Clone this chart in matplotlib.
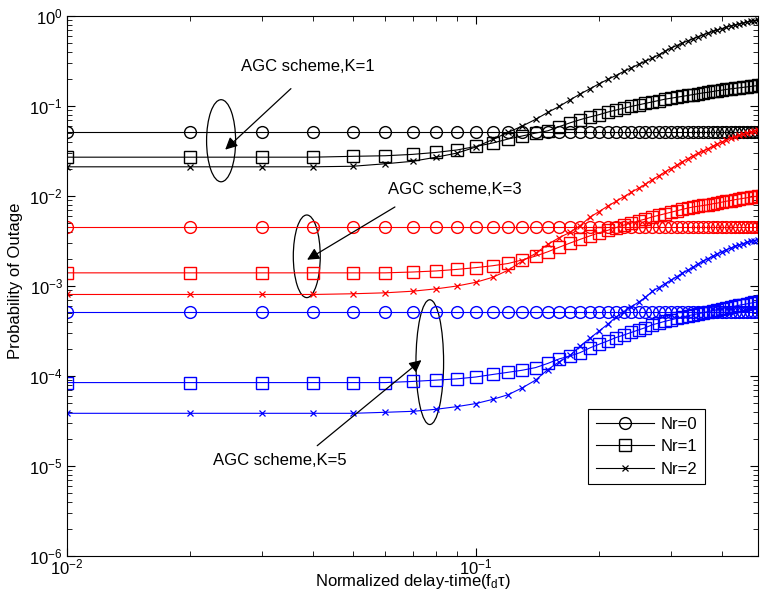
import matplotlib
matplotlib.use('Agg')
import matplotlib.pyplot as plt
import numpy as np
from matplotlib.patches import Ellipse

plt.rcParams['font.family'] = ['Liberation Sans', 'DejaVu Sans']
plt.rcParams['mathtext.default'] = 'regular'
plt.rcParams['font.size'] = 12

# normalized delay-time grid (f_d * tau)
delay = np.arange(1, 51) / 100

# K=1 (black)
k1_nr0 = [0.0515] * 50
k1_nr1 = [0.0270, 0.0270, 0.0270, 0.0270, 0.0276, 0.0280, 0.0290, 0.0305, 0.0325, 0.0355,
          0.0388, 0.043, 0.0465, 0.050, 0.053, 0.059, 0.065, 0.0705, 0.0755, 0.080,
          0.0855, 0.090, 0.0945, 0.099, 0.103, 0.107, 0.111, 0.115, 0.119, 0.122,
          0.125, 0.128, 0.131, 0.134, 0.137, 0.140, 0.142, 0.145, 0.148, 0.150,
          0.153, 0.155, 0.157, 0.159, 0.161, 0.163, 0.165, 0.167, 0.169, 0.171]
k1_nr2 = [0.0211, 0.0211, 0.0211, 0.0211, 0.0214, 0.0228, 0.0243, 0.027, 0.030, 0.035,
          0.0425, 0.051, 0.060, 0.071, 0.085, 0.099, 0.117, 0.136, 0.155, 0.176,
          0.197, 0.218, 0.242, 0.265, 0.29, 0.315, 0.34, 0.37, 0.405, 0.44,
          0.47, 0.50, 0.53, 0.56, 0.59, 0.62, 0.645, 0.675, 0.70, 0.725,
          0.75, 0.775, 0.795, 0.815, 0.835, 0.855, 0.875, 0.89, 0.905, 0.92]

# K=3 (red)
k3_nr0 = [4.5e-3] * 50
k3_nr1 = [1.40e-3, 1.40e-3, 1.40e-3, 1.40e-3, 1.40e-3, 1.40e-3, 1.43e-3, 1.47e-3, 1.53e-3, 1.6e-3,
          1.68e-3, 1.78e-3, 1.95e-3, 2.15e-3, 2.4e-3, 2.7e-3, 3.0e-3, 3.3e-3, 3.6e-3, 3.9e-3,
          4.15e-3, 4.45e-3, 4.75e-3, 5.0e-3, 5.3e-3, 5.55e-3, 5.85e-3, 6.1e-3, 6.35e-3, 6.6e-3,
          6.85e-3, 7.1e-3, 7.35e-3, 7.55e-3, 7.7e-3, 7.85e-3, 8.0e-3, 8.2e-3, 8.35e-3, 8.55e-3,
          8.75e-3, 8.9e-3, 9.1e-3, 9.25e-3, 9.4e-3, 9.55e-3, 9.7e-3, 9.85e-3, 9.95e-3, 1.005e-2]
k3_nr2 = [8.05e-4, 8.05e-4, 8.05e-4, 8.05e-4, 8.2e-4, 8.4e-4, 8.75e-4, 9.3e-4, 1.0e-3, 1.1e-3,
          1.25e-3, 1.5e-3, 1.9e-3, 2.3e-3, 2.9e-3, 3.45e-3, 3.95e-3, 4.7e-3, 5.8e-3, 6.7e-3,
          7.7e-3, 8.7e-3, 9.8e-3, 1.1e-2, 1.22e-2, 1.35e-2, 1.52e-2, 1.67e-2, 1.85e-2, 2.02e-2,
          2.2e-2, 2.4e-2, 2.6e-2, 2.8e-2, 2.98e-2, 3.16e-2, 3.36e-2, 3.57e-2, 3.8e-2, 4.0e-2,
          4.2e-2, 4.38e-2, 4.55e-2, 4.72e-2, 4.88e-2, 5.05e-2, 5.2e-2, 5.32e-2, 5.42e-2, 5.5e-2]

# K=5 (blue)
k5_nr0 = [5.1e-4] * 50
k5_nr1 = [8.45e-5, 8.45e-5, 8.45e-5, 8.45e-5, 8.45e-5, 8.45e-5, 8.7e-5, 9.0e-5, 9.3e-5, 9.75e-5,
          1.04e-4, 1.10e-4, 1.16e-4, 1.24e-4, 1.38e-4, 1.55e-4, 1.67e-4, 1.82e-4, 2.05e-4, 2.25e-4,
          2.45e-4, 2.67e-4, 2.85e-4, 3.05e-4, 3.25e-4, 3.45e-4, 3.70e-4, 3.87e-4, 4.05e-4, 4.2e-4,
          4.37e-4, 4.52e-4, 4.67e-4, 4.8e-4, 4.93e-4, 5.06e-4, 5.2e-4, 5.33e-4, 5.45e-4, 5.6e-4,
          5.73e-4, 5.85e-4, 5.97e-4, 6.1e-4, 6.22e-4, 6.33e-4, 6.45e-4, 6.56e-4, 6.67e-4, 6.78e-4]
k5_nr2 = [3.85e-5, 3.85e-5, 3.85e-5, 3.85e-5, 3.85e-5, 3.95e-5, 4.05e-5, 4.27e-5, 4.57e-5, 4.94e-5,
          5.5e-5, 6.2e-5, 7.4e-5, 9.0e-5, 1.18e-4, 1.44e-4, 1.70e-4, 2.15e-4, 2.62e-4, 3.15e-4,
          3.75e-4, 4.5e-4, 5.2e-4, 5.9e-4, 6.6e-4, 7.5e-4, 8.7e-4, 9.6e-4, 1.06e-3, 1.16e-3,
          1.27e-3, 1.39e-3, 1.50e-3, 1.62e-3, 1.77e-3, 1.90e-3, 2.02e-3, 2.15e-3, 2.29e-3, 2.41e-3,
          2.53e-3, 2.64e-3, 2.75e-3, 2.86e-3, 2.96e-3, 3.05e-3, 3.13e-3, 3.20e-3, 3.27e-3, 3.33e-3]

legend_labels = ['Nr=0', 'Nr=1', 'Nr=2']

fig = plt.figure(figsize=(7.6, 5.91), dpi=100)
ax = fig.add_axes([67 / 760, 35 / 591, 691 / 760, 540 / 591])

groups = [('k', [k1_nr0, k1_nr1, k1_nr2]),
          ('r', [k3_nr0, k3_nr1, k3_nr2]),
          ('b', [k5_nr0, k5_nr1, k5_nr2])]
markers = [dict(marker='o', markersize=8.5, markerfacecolor='none'),
           dict(marker='s', markersize=8, markerfacecolor='none'),
           dict(marker='x', markersize=4, markeredgewidth=0.9)]

handles = []
for color, series in groups:
    for vals, mk, lab in zip(series, markers, legend_labels):
        h, = ax.loglog(delay, vals, color=color, linewidth=0.8,
                       markeredgecolor=color, label=lab, **mk)
        if color == 'k':
            handles.append(h)

ax.set_xlim(0.01, 0.49)
ax.set_ylim(1e-6, 1)
ax.tick_params(which='both', direction='in', top=True, right=True, labelsize=12)
ax.tick_params(axis='x', pad=1)
ax.tick_params(axis='y', pad=3)
ax.tick_params(which='major', length=6)
ax.tick_params(which='minor', length=3.5)
for s in ax.spines.values():
    s.set_linewidth(0.8)

ax.set_xlabel('Normalized delay-time(f$_d$\u03c4)', fontsize=12)
ax.xaxis.set_label_coords(0.5, -0.03)
ax.set_ylabel('Probability of Outage', fontsize=12)
ax.yaxis.set_label_coords(-0.064, 0.51)

leg = ax.legend(handles=handles, loc='lower right', bbox_to_anchor=(0.923, 0.133),
                borderaxespad=0, fontsize=12, fancybox=False, edgecolor='k', framealpha=1,
                handlelength=3.5, borderpad=0.45, labelspacing=0.45, handletextpad=0.4)
leg.get_frame().set_linewidth(0.8)

# annotations (axes-fraction coordinates)
notes = [('AGC scheme,K=1', (0.349, 0.906), (0.327, 0.869), (0.226, 0.749), (0.223, 0.769, 0.042, 0.152)),
         ('AGC scheme,K=3', (0.561, 0.678), (0.478, 0.649), (0.344, 0.546), (0.347, 0.555, 0.039, 0.153)),
         ('AGC scheme,K=5', (0.308, 0.176), (0.359, 0.201), (0.516, 0.366), (0.525, 0.359, 0.040, 0.231))]
for text, tpos, tail, head, ell in notes:
    ax.text(tpos[0], tpos[1], text, transform=ax.transAxes, ha='center', va='center', fontsize=12)
    ax.annotate('', xy=head, xycoords='axes fraction', xytext=tail, textcoords='axes fraction',
                arrowprops=dict(arrowstyle='-|>', color='k', lw=0.9, mutation_scale=18))
    ax.add_patch(Ellipse((ell[0], ell[1]), ell[2], ell[3], transform=ax.transAxes,
                         fill=False, edgecolor='k', linewidth=0.9))

fig.savefig('out.png', dpi=100)
